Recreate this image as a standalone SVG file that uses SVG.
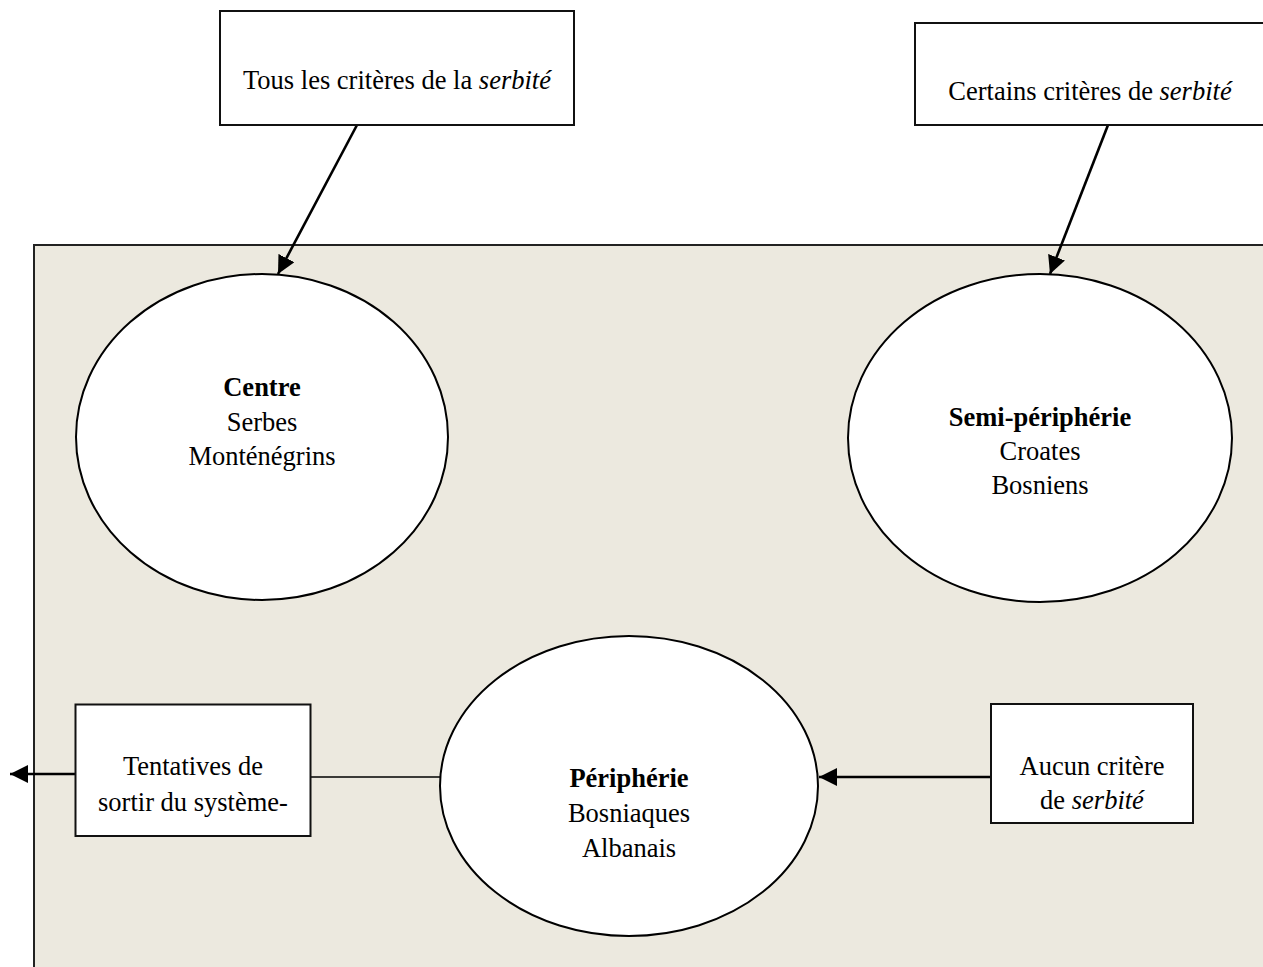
<svg xmlns="http://www.w3.org/2000/svg" width="1263" height="967" viewBox="0 0 1263 967">
<style>
text{font-family:"Liberation Serif","Times New Roman",serif;font-size:26.5px;fill:#000;text-anchor:middle}
.b{font-weight:bold}
.i{font-style:italic}
.box{fill:#fff;stroke:#111;stroke-width:2}
.ell{fill:#fff;stroke:#000;stroke-width:2}
.conn{stroke:#000;stroke-width:2.6;fill:none}
.thin{stroke:#000;stroke-width:1.5;fill:none}
</style>
<defs>
<marker id="ah" markerUnits="userSpaceOnUse" markerWidth="18" markerHeight="18" viewBox="0 0 16 16" refX="16" refY="8" orient="auto">
<path d="M0,0 L16,8 L0,16 Z" fill="#000"/>
</marker>
</defs>
<rect id="background" x="34" y="245" width="1240" height="740" fill="#ECE9DF" stroke="#222" stroke-width="2"/>
<g id="connectors">
<line class="conn" x1="357" y1="125" x2="278" y2="274" marker-end="url(#ah)"/>
<line class="conn" x1="1108" y1="125" x2="1050" y2="274" marker-end="url(#ah)"/>
<line class="thin" x1="311" y1="777" x2="441" y2="777"/>
<line class="conn" x1="75" y1="774" x2="10" y2="774" marker-end="url(#ah)"/>
<line class="conn" x1="991" y1="777" x2="819" y2="777" marker-end="url(#ah)"/>
</g>
<g id="tous">
<rect class="box" x="220" y="11" width="354" height="114"/>
<text x="397" y="89">Tous les critères de la <tspan class="i">serbité</tspan></text>
</g>
<g id="certains">
<rect class="box" x="915" y="23" width="370" height="102"/>
<text x="1090" y="100">Certains critères de <tspan class="i">serbité</tspan></text>
</g>
<g id="centre">
<ellipse class="ell" cx="262" cy="437" rx="186" ry="163"/>
<text class="b" x="262" y="396">Centre</text>
<text x="262" y="431">Serbes</text>
<text x="262" y="465">Monténégrins</text>
</g>
<g id="semi">
<ellipse class="ell" cx="1040" cy="438" rx="192" ry="164"/>
<text class="b" x="1040" y="426">Semi-périphérie</text>
<text x="1040" y="460">Croates</text>
<text x="1040" y="494">Bosniens</text>
</g>
<g id="peripherie">
<ellipse class="ell" cx="629" cy="786" rx="189" ry="150"/>
<text class="b" x="629" y="787">Périphérie</text>
<text x="629" y="822">Bosniaques</text>
<text x="629" y="857">Albanais</text>
</g>
<g id="tentatives">
<rect class="box" x="75.5" y="704.5" width="235" height="131.5"/>
<text x="193" y="775">Tentatives de</text>
<text x="193" y="811">sortir du système-</text>
</g>
<g id="aucun">
<rect class="box" x="991" y="704" width="202" height="119"/>
<text x="1092" y="775">Aucun critère</text>
<text x="1092" y="809">de <tspan class="i">serbité</tspan></text>
</g>
</svg>
